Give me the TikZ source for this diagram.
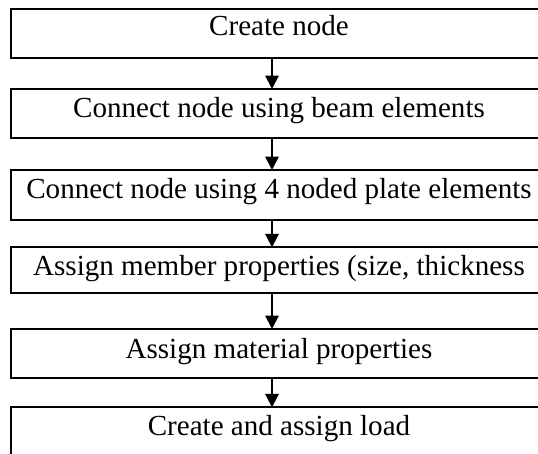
\documentclass[tikz,border=0pt]{standalone}
\usepackage{fontspec}
\setmainfont{Liberation Serif}
\usetikzlibrary{arrows.meta}

\begin{document}
\begin{tikzpicture}[x=0.75pt,y=0.75pt,yscale=-1,xscale=1,
    stepbox/.style={draw, line width=1.4pt, minimum width=402.75pt, inner sep=0pt, outer sep=0pt},
    steptext/.style={anchor=base, inner sep=0pt, font=\fontsize{21.8}{26}\selectfont},
    flow/.style={line width=1.5pt, -{Triangle[length=10pt, width=10pt]}}]
    %set diagram size 538 x 453, boxes run off the right and bottom edges
    \clip (0,0) rectangle (538,453);
    \coordinate (axis) at (272,0);
    
    % Box: create node
    \node[stepbox, minimum height=36.5pt] (b1) at (279.5,33.65) {};
    \node[steptext] (t1) at (279,36) {Create node};
    % Box: beam elements
    \node[stepbox, minimum height=37pt] (b2) at (279.5,113.65) {};
    \node[steptext] (t2) at (279,117.3) {Connect node using beam elements};
    % Box: plate elements
    \node[stepbox, minimum height=37.5pt] (b3) at (279.5,195) {};
    \node[steptext] (t3) at (279,198.3) {Connect node using 4 noded plate elements};
    % Box: member properties
    \node[stepbox, minimum height=34.5pt] (b4) at (279.5,270.3) {};
    \node[steptext] (t4) at (279,275) {Assign member properties (size, thickness};
    % Box: material properties
    \node[stepbox, minimum height=37pt] (b5) at (279.5,353.65) {};
    \node[steptext] (t5) at (279,358.3) {Assign material properties};
    % Box: load
    \node[stepbox, minimum height=45pt] (b6) at (279.5,437.3) {};
    \node[steptext] (t6) at (279,435) {Create and assign load};
    
    %Straight Lines
    \draw[flow] (b1.south -| axis) -- (b2.north -| axis);
    \draw[flow] (b2.south -| axis) -- (b3.north -| axis);
    \draw[flow] (b3.south -| axis) -- (b4.north -| axis);
    \draw[flow] (b4.south -| axis) -- (b5.north -| axis);
    \draw[flow] (b5.south -| axis) -- (b6.north -| axis);
    
\end{tikzpicture}
\end{document}
